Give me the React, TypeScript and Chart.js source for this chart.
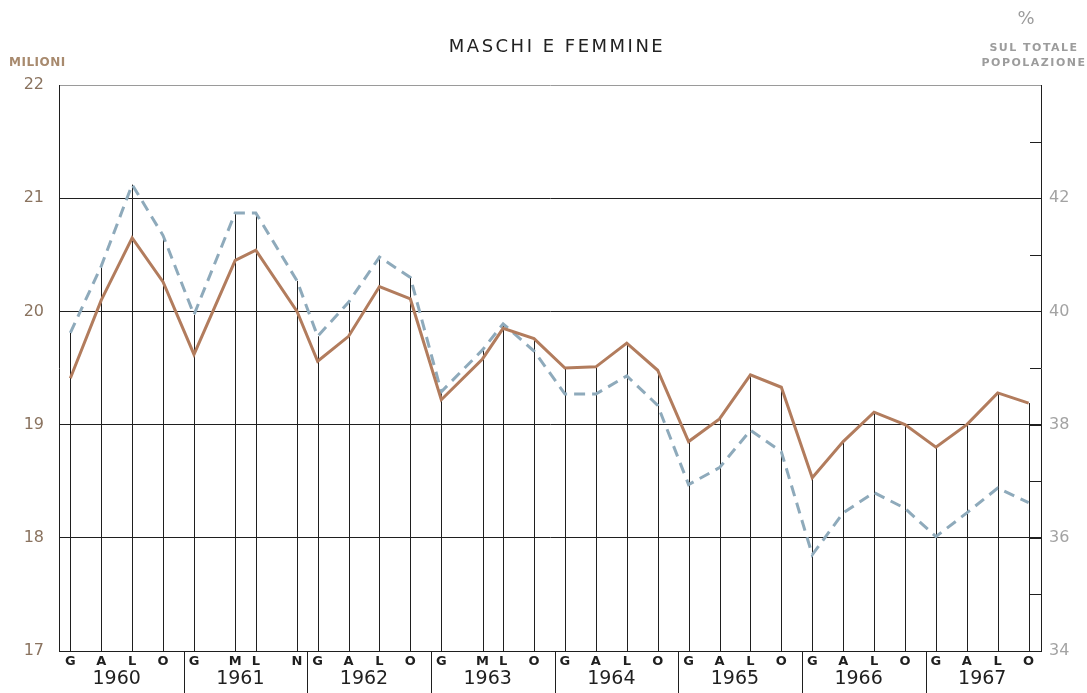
import { useEffect, useRef } from "react";
import { Chart, registerables } from "chart.js";

Chart.register(...registerables);

// ---- data ----
const years = [1960, 1961, 1962, 1963, 1964, 1965, 1966, 1967];
const periodYears = [
  1960, 1960, 1960, 1960, 1961, 1961, 1961, 1961,
  1962, 1962, 1962, 1962, 1963, 1963, 1963, 1963,
  1964, 1964, 1964, 1964, 1965, 1965, 1965, 1965,
  1966, 1966, 1966, 1966, 1967, 1967, 1967, 1967,
];
const periodMonths = [
  1, 4, 7, 10, 1, 5, 7, 11,
  1, 4, 7, 10, 1, 5, 7, 10,
  1, 4, 7, 10, 1, 4, 7, 10,
  1, 4, 7, 10, 1, 4, 7, 10,
];
const periodLetters = [
  "G", "A", "L", "O", "G", "M", "L", "N",
  "G", "A", "L", "O", "G", "M", "L", "O",
  "G", "A", "L", "O", "G", "A", "L", "O",
  "G", "A", "L", "O", "G", "A", "L", "O",
];
// Maschi (solid brown line), milioni
const maschi = [
  19.41, 20.10, 20.65, 20.26, 19.62, 20.45, 20.54, 20.0,
  19.56, 19.78, 20.22, 20.11, 19.22, 19.58, 19.85, 19.76,
  19.50, 19.51, 19.72, 19.48, 18.85, 19.05, 19.44, 19.33,
  18.53, 18.85, 19.11, 19.0, 18.80, 19.0, 19.28, 19.19,
];
// Femmine (dashed blue-grey line), milioni
const femmine = [
  19.81, 20.40, 21.12, 20.67, 19.97, 20.87, 20.87, 20.27,
  19.78, 20.08, 20.48, 20.30, 19.29, 19.66, 19.89, 19.65,
  19.27, 19.27, 19.43, 19.17, 18.47, 18.62, 18.95, 18.76,
  17.85, 18.22, 18.40, 18.26, 18.01, 18.22, 18.44, 18.31,
];
const rightLabelValues = [34, 36, 38, 40, 42];
const rightMinorTicks = [35, 36, 37, 38, 39, 40, 41, 42, 43];

const baseYear = 1960;
const xOf = (i: number) => (periodYears[i] - baseYear) * 12 + periodMonths[i];

const FONT = '"DejaVu Sans", "Liberation Sans", sans-serif';

const decor = {
  id: "decor",
  beforeDatasetsDraw(chart: any) {
    const { ctx, chartArea, scales } = chart;
    const x = scales.x;
    const y = scales.y;
    ctx.save();
    ctx.strokeStyle = "#1f1f1f";
    ctx.lineWidth = 1;
    for (let i = 0; i < periodMonths.length; i++) {
      const px = Math.round(x.getPixelForValue(xOf(i))) + 0.5;
      const top = y.getPixelForValue(Math.max(maschi[i], femmine[i]));
      ctx.beginPath();
      ctx.moveTo(px, chartArea.bottom);
      ctx.lineTo(px, top);
      ctx.stroke();
    }
    ctx.restore();
  },
  afterDraw(chart: any) {
    const { ctx, chartArea, scales } = chart;
    const x = scales.x;
    const y2 = scales.y2;
    const H = chart.height;
    ctx.save();

    // inward ticks on right axis
    ctx.strokeStyle = "#1f1f1f";
    ctx.lineWidth = 1;
    for (const v of rightMinorTicks) {
      const py = Math.round(y2.getPixelForValue(v)) + 0.5;
      ctx.beginPath();
      ctx.moveTo(chartArea.right - 11, py);
      ctx.lineTo(chartArea.right, py);
      ctx.stroke();
    }

    // year separators under the axis
    for (let k = 1; k < years.length; k++) {
      const px = Math.round(x.getPixelForValue(k * 12)) + 0.5;
      ctx.beginPath();
      ctx.moveTo(px, chartArea.bottom);
      ctx.lineTo(px, H);
      ctx.stroke();
    }

    // month letters
    ctx.fillStyle = "#1f1f1f";
    ctx.textAlign = "center";
    ctx.textBaseline = "middle";
    ctx.font = `bold 13px ${FONT}`;
    for (let i = 0; i < periodLetters.length; i++) {
      ctx.fillText(periodLetters[i], x.getPixelForValue(xOf(i)), chartArea.bottom + 11);
    }
    // year labels
    ctx.font = `19px ${FONT}`;
    for (let k = 0; k < years.length; k++) {
      ctx.fillText(String(years[k]), x.getPixelForValue(k * 12 + 5.5), chartArea.bottom + 28);
    }

    // title
    ctx.fillStyle = "#222";
    ctx.font = `18px ${FONT}`;
    (ctx as any).letterSpacing = "2.5px";
    ctx.fillText("MASCHI E FEMMINE", 557, 47);

    // left unit
    ctx.textAlign = "left";
    ctx.fillStyle = "#a88a6e";
    ctx.font = `bold 12px ${FONT}`;
    (ctx as any).letterSpacing = "0.5px";
    ctx.fillText("MILIONI", 9, 63);

    // right unit
    ctx.textAlign = "center";
    ctx.fillStyle = "#9c9c9c";
    (ctx as any).letterSpacing = "0px";
    ctx.font = `18px ${FONT}`;
    ctx.fillText("%", 1026, 19);
    ctx.font = `bold 11px ${FONT}`;
    (ctx as any).letterSpacing = "1.5px";
    ctx.fillText("SUL TOTALE", 1034, 48);
    ctx.fillText("POPOLAZIONE", 1034, 63);
    (ctx as any).letterSpacing = "0px";

    ctx.restore();
  },
};

export default function App() {
  const ref = useRef<HTMLCanvasElement | null>(null);

  useEffect(() => {
    if (!ref.current) return;
    const chart = new Chart(ref.current, {
      type: "line",
      data: {
        datasets: [
          {
            label: "Maschi",
            data: maschi.map((v, i) => ({ x: xOf(i), y: v })),
            borderColor: "#b27c5d",
            borderWidth: 3,
            pointRadius: 0,
            tension: 0,
            borderJoinStyle: "miter",
            yAxisID: "y",
          },
          {
            label: "Femmine",
            data: femmine.map((v, i) => ({ x: xOf(i), y: v })),
            borderColor: "#8eaabb",
            borderWidth: 3,
            borderDash: [11, 7],
            pointRadius: 0,
            tension: 0,
            borderJoinStyle: "miter",
            yAxisID: "y",
          },
        ],
      },
      options: {
        responsive: false,
        animation: false,
        layout: { padding: { top: 85, left: 0, right: 0, bottom: 0 } },
        plugins: {
          legend: { display: false },
          title: { display: false },
          tooltip: { enabled: false },
        },
        scales: {
          x: {
            type: "linear",
            min: -0.1,
            max: 95.2,
            ticks: { display: false },
            grid: { display: false },
            border: { display: true, color: "#1f1f1f", width: 1 },
            afterFit: (s: any) => {
              s.height = 42;
            },
          },
          y: {
            position: "left",
            min: 17,
            max: 22,
            ticks: {
              stepSize: 1,
              padding: 15,
              color: "#8a735f",
              font: { family: FONT, size: 16 },
            },
            grid: {
              drawTicks: false,
              lineWidth: 1,
              color: (c: any) => (c.tick && c.tick.value === 22 ? "#9a9a9a" : "#1f1f1f"),
            },
            border: { display: true, color: "#1f1f1f", width: 1 },
            afterFit: (s: any) => {
              s.width = 59;
            },
          },
          y2: {
            position: "right",
            min: 34,
            max: 44,
            ticks: {
              stepSize: 1,
              padding: 8,
              color: "#a3a3a3",
              font: { family: FONT, size: 16 },
              callback: (v: any) => (rightLabelValues.includes(Number(v)) ? String(v) : ""),
            },
            grid: { drawOnChartArea: false, drawTicks: false },
            border: { display: true, color: "#1f1f1f", width: 1 },
            afterFit: (s: any) => {
              s.width = 46;
            },
          },
        },
      },
      plugins: [decor],
    });
    return () => chart.destroy();
  }, []);

  return (
    <div style={{ position: "absolute", left: 0, top: 0, width: 1087, height: 693, background: "#fff" }}>
      <canvas ref={ref} width={1087} height={693} style={{ display: "block" }} />
    </div>
  );
}
